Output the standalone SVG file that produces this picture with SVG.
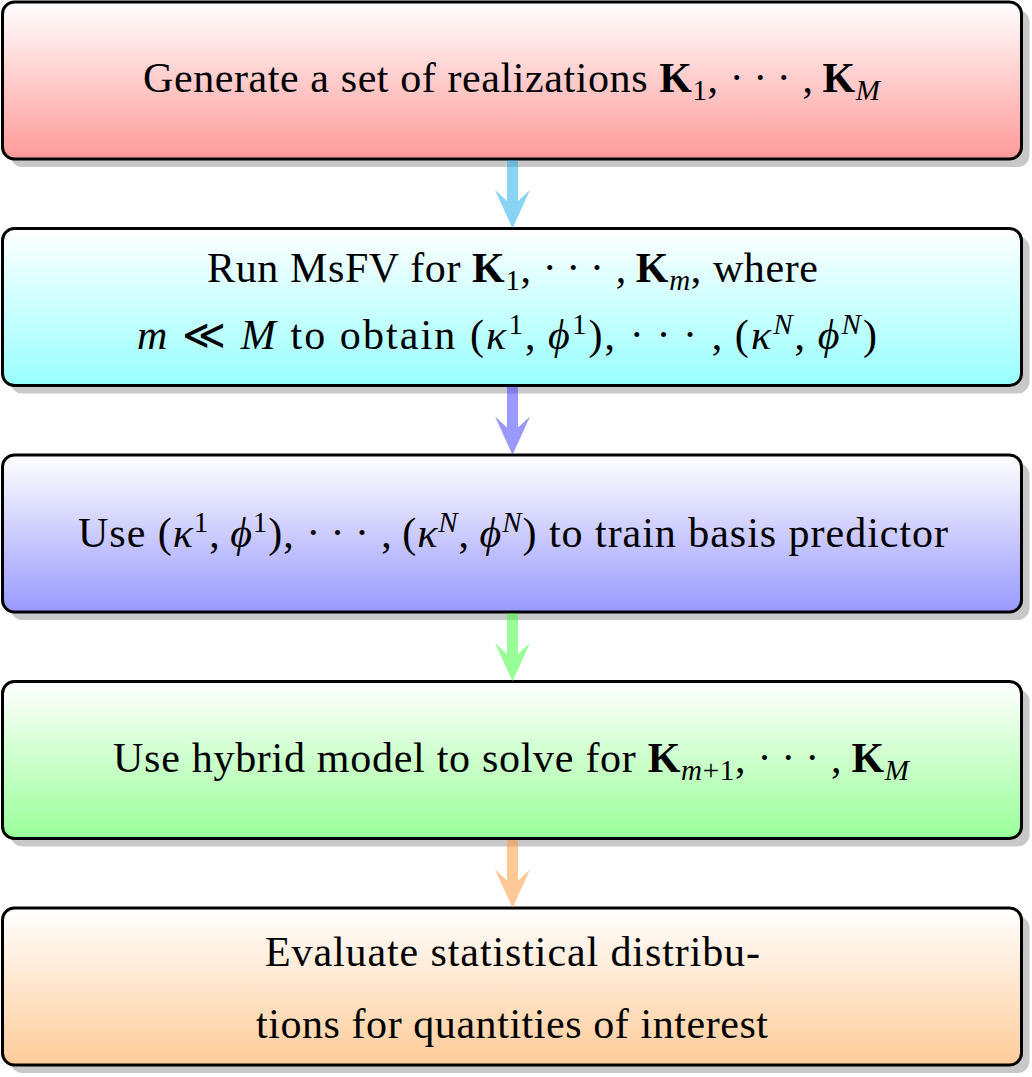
<svg xmlns="http://www.w3.org/2000/svg" width="1032" height="1077" viewBox="0 0 1032 1077">
<style>
.shadow{fill:#c8c8c8}
.box{stroke:#000;stroke-width:3}
.t{font-family:"Liberation Serif","DejaVu Serif",serif;font-size:42px;fill:#000}
.b{font-weight:bold}
.i{font-style:italic}
.s{font-size:29px}
.arrow{opacity:0.5}
</style>
<defs>
<linearGradient id="gRed" x1="0" y1="0" x2="0" y2="1"><stop offset="0" stop-color="#ffffff"/><stop offset="1" stop-color="#ff9999"/></linearGradient>
<linearGradient id="gCyan" x1="0" y1="0" x2="0" y2="1"><stop offset="0" stop-color="#ffffff"/><stop offset="1" stop-color="#99ffff"/></linearGradient>
<linearGradient id="gBlue" x1="0" y1="0" x2="0" y2="1"><stop offset="0" stop-color="#ffffff"/><stop offset="1" stop-color="#9999ff"/></linearGradient>
<linearGradient id="gGreen" x1="0" y1="0" x2="0" y2="1"><stop offset="0" stop-color="#ffffff"/><stop offset="1" stop-color="#99ff99"/></linearGradient>
<linearGradient id="gOrange" x1="0" y1="0" x2="0" y2="1"><stop offset="0" stop-color="#ffffff"/><stop offset="1" stop-color="#ffcc99"/></linearGradient>
</defs>

<g id="node1">
<rect class="shadow" x="10.5" y="10" width="1019" height="157" rx="12"/>
<rect class="box" x="2.5" y="2" width="1019" height="157" rx="12" fill="url(#gRed)"/>
<text class="t" x="143" y="92" textLength="737">Generate a set of realizations <tspan class="b">K</tspan><tspan class="s" dy="8">1</tspan><tspan dy="-8">, ·&#8201;·&#8201;· ,&#8201;</tspan><tspan class="b">K</tspan><tspan class="s i" dy="8">M</tspan></text>
</g>

<g id="node2">
<rect class="shadow" x="10.5" y="236.5" width="1019" height="157" rx="12"/>
<rect class="box" x="2.5" y="228.5" width="1019" height="157" rx="12" fill="url(#gCyan)"/>
<text class="t" x="207" y="282" textLength="611">Run MsFV for <tspan class="b">K</tspan><tspan class="s" dy="8">1</tspan><tspan dy="-8">, ·&#8201;·&#8201;· ,&#8201;</tspan><tspan class="b">K</tspan><tspan class="s i" dy="8">m</tspan><tspan dy="-8">, where</tspan></text>
<text class="t" x="137" y="349" textLength="740"><tspan class="i">m</tspan> ≪ <tspan class="i">M</tspan> to obtain (<tspan class="i">κ</tspan><tspan class="s" dy="-15">1</tspan><tspan dy="15">,&#8201;</tspan><tspan class="i">ϕ</tspan><tspan class="s" dy="-15">1</tspan><tspan dy="15">), ·&#8201;·&#8201;· ,&#8201;(</tspan><tspan class="i">κ</tspan><tspan class="s i" dy="-15">N</tspan><tspan dy="15">,&#8201;</tspan><tspan class="i">ϕ</tspan><tspan class="s i" dy="-15">N</tspan><tspan dy="15">)</tspan></text>
</g>

<g id="node3">
<rect class="shadow" x="10.5" y="463" width="1019" height="157" rx="12"/>
<rect class="box" x="2.5" y="455" width="1019" height="157" rx="12" fill="url(#gBlue)"/>
<text class="t" x="78" y="547" textLength="870">Use (<tspan class="i">κ</tspan><tspan class="s" dy="-15">1</tspan><tspan dy="15">,&#8201;</tspan><tspan class="i">ϕ</tspan><tspan class="s" dy="-15">1</tspan><tspan dy="15">), ·&#8201;·&#8201;· ,&#8201;(</tspan><tspan class="i">κ</tspan><tspan class="s i" dy="-15">N</tspan><tspan dy="15">,&#8201;</tspan><tspan class="i">ϕ</tspan><tspan class="s i" dy="-15">N</tspan><tspan dy="15">) to train basis predictor</tspan></text>
</g>

<g id="node4">
<rect class="shadow" x="10.5" y="689.5" width="1019" height="157" rx="12"/>
<rect class="box" x="2.5" y="681.5" width="1019" height="157" rx="12" fill="url(#gGreen)"/>
<text class="t" x="113" y="772" textLength="796">Use hybrid model to solve for <tspan class="b">K</tspan><tspan class="s" dy="8"><tspan class="i">m</tspan>+1</tspan><tspan dy="-8">, ·&#8201;·&#8201;· ,&#8201;</tspan><tspan class="b">K</tspan><tspan class="s i" dy="8">M</tspan></text>
</g>

<g id="node5">
<rect class="shadow" x="10.5" y="916" width="1019" height="157" rx="12"/>
<rect class="box" x="2.5" y="908" width="1019" height="157" rx="12" fill="url(#gOrange)"/>
<text class="t" x="265" y="966" textLength="495">Evaluate statistical distribu-</text>
<text class="t" x="256" y="1038" textLength="512">tions for quantities of interest</text>
</g>

<g id="connectors">
<path class="arrow" fill="#0fa9eb" d="M507,160.5 H518 V201 L530,190 L512.5,228.5 L495,190 L507,201 Z"/>
<path class="arrow" fill="#3333ff" d="M507,387 H518 V427.5 L530,416.5 L512.5,455 L495,416.5 L507,427.5 Z"/>
<path class="arrow" fill="#33ff33" d="M507,613.5 H518 V654 L530,643 L512.5,681.5 L495,643 L507,654 Z"/>
<path class="arrow" fill="#ff912d" d="M507,840 H518 V880.5 L530,869.5 L512.5,908 L495,869.5 L507,880.5 Z"/>
</g>
</svg>
